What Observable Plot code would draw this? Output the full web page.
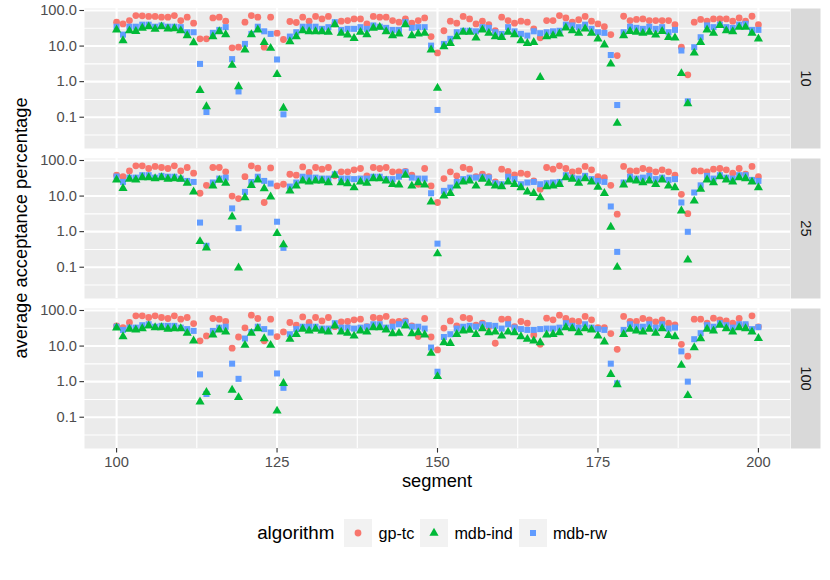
<!DOCTYPE html>
<html><head><meta charset="utf-8">
<script src="https://cdn.jsdelivr.net/npm/d3@7"></script>
<script src="https://cdn.jsdelivr.net/npm/@observablehq/plot@0.6"></script>
<style>
body{margin:0;background:#fff;font-family:"Liberation Sans",Arial,Helvetica,sans-serif;}
#legend{display:flex;align-items:center;justify-content:center;width:790px;padding-left:40px;height:28px;margin-top:19px;}
#legend .title{font-size:18.8px;color:#000;margin-right:10px;}
#legend .lab{font-size:16.2px;color:#000;margin-left:6px;margin-right:6px;}
#legend svg{display:block;}
</style></head><body><div id="chart"></div><div id="legend"></div><script>
const segments = [100,101,102,103,104,105,106,107,108,109,110,111,112,113,114,115,116,117,118,119,120,121,122,123,124,125,126,127,128,129,130,131,132,133,134,135,136,137,138,139,140,141,142,143,144,145,146,147,148,149,150,151,152,153,154,155,156,157,158,159,160,161,162,163,164,165,166,167,168,169,170,171,172,173,174,175,176,177,178,179,180,181,182,183,184,185,186,187,188,189,190,191,192,193,194,195,196,197,198,199,200];
const facets = ["10","25","100"];
const algorithms = ["gp-tc","mdb-ind","mdb-rw"];
const colors = ["#F8766D","#00BA38","#619CFF"];
const symbols = ["circle","triangle","square"];
const yMajor = [0.1,1,10,100];
const yMinor = [0.0316,0.316,3.16,31.6];
const xMajor = [100,125,150,175,200];
const xMinor = [112.5,137.5,162.5,187.5];

// panel "10"
const gp_tc_10 = [47,42,52,72,71,68,68,65,65,72, 52,65,44,16,16,62,65,50,8.9,9.3, 47,72,65,9.3,65,23,15.3,49,46,65, 50,68,58,68,42,50,52,58,58,42, 68,65,65,52,47,58,44,52,62,18.5, 6.4,27,50,44,68,58,42,50,40,27, 65,52,44,50,47,30.5,17,52,52,72, 62,47,55,68,50,42,35,21,5.4,69, 52,56,58,52,52,52,52,40,9.3,1.55, 47,56,50,58,58,58,50,62,50,69,40];
const mdb_ind_10 = [28.5,14.3,27,26,32,35,30,35,30.5,31, 27,19.7,12.6,0.57,0.2,18.5,25.6,21,2.9,0.73, 7.8,21,28.5,12.8,8.7,1.6,0.18,13.4,18.5,27, 25.6,25.6,25.6,24.5,40,23,20.6,16.6,24.5,21, 32,34,25.6,19.7,22,40,19.7,22,23,7.8, 0.66,9.7,12,18.5,24.5,24.5,17,28.5,23,18.5, 17.7,24.5,21,14.3,12,12.8,1.32,18.5,19.7,22, 32.5,27,23,30.5,23,16,10.8,3.15,0.068,19.7, 26,24.5,23,24.5,20.6,26,17.7,17,1.7,0.24, 6.4,12.8,28.5,23,38,27,25.6,34,34,23,16];
const mdb_rw_10 = [35,21,35,35,40,40,35,38,35,35, 34,24.5,24.5,3.15,0.14,23.5,28.5,34,4.3,0.53, 11.5,22,35,26,22,4.2,0.12,18.5,24.5,35, 35,35,30.5,34,47,28.5,30.5,30.5,34,30.5, 38,35,32.5,28.5,28.5,47,32.5,34,34,10.3, 0.16,11.5,16,24.5,27,27,26,34,32.5,24.5, 22,34,26,22,19.7,26,23,24.5,26,27, 40,38,34,40,30.5,24.5,23.5,5.6,0.22,24.5, 35,32.5,30.5,35,30.5,34,24.5,28.5,7.5,0.28, 9.3,17.7,38,34,40,34,32.5,40,42,28.5,28.5];

// panel "25"
const gp_tc_25 = [38.6,35,51,71,71,59.5,68,63.5,59.5,71, 51,63.5,44,12,20,63.5,63.5,48,10,8.5, 35,71,61,6.6,62,19.3,21.5,41,38.6,66, 46,63.5,57,63.5,37,48,48,54.6,59.5,37, 63.5,59.5,63.5,48,48,49,38.6,21.5,59.5,19.3, 6.6,31,48,37,63.5,57,35,41,35,25, 57,49,39.5,44,41,26.7,15.6,63.5,57,71, 59.5,48,51,68,54.6,35,33,20,3.1,68, 51,51,59.5,54.6,48,54.6,48,38.6,11.2,3.2, 51,51,48,57,59.5,54.6,44,59.5,41,68,35];
const mdb_ind_25 = [28.5,16.6,30,28.5,33,33,31,33,30,31, 30,23,13.1,0.53,0.35,19.3,28,23,2.6,0.096, 9.1,20,28.5,16.3,9.5,0.9,0.43,14,19.3,26.7, 25,26.7,26.7,24,38.6,24,22.5,17.3,25,23, 31,31,26.7,21.5,20.6,38.6,19.3,24,20.6,6.9, 0.24,10.1,12,19.3,25,26.7,19.3,30,23,19.3, 18.5,25,21.5,17.3,13.1,12,9.1,18.5,19.3,21.5, 33,30,23,31,25,18,12,1.35,0.1,20.6, 28.5,26.7,24,26.7,21.5,28.5,19.3,17.3,3.85,0.16, 7.3,15.6,28.5,24,35,28.5,25,33,31,25,17.3];
const mdb_rw_25 = [35.4,25,33,33,38.6,38.6,33,37,35,35, 31,26.7,25,1.8,0.4,24,31,33,4.5,1.25, 13.1,25,35,26.7,22.5,1.9,0.35,18.5,24,35, 33,33,31,31,41,31,31,30,31,31, 35,35,30,30,35,48,33,31,31,12, 0.46,14,17.3,25,30,33,33,35,33,23, 21.5,35,30,21.5,24,25,21.5,23,24,25, 38.6,33,31,37,30,26.7,25,5.1,0.27,24, 35,31,33,37,30,33,28.5,30,6.6,0.99, 12.6,20,37,31,38.6,33,31,38.6,38.6,28.5,26.7];

// panel "100"
const gp_tc_100 = [37,33,46,71,71,63.5,71,63.5,59.5,71, 57,63.5,43,14,19.3,59.5,57,49,8.7,18, 32.5,74,59.5,14,57,18.5,25,46,38.6,66, 46,63.5,51,63.5,35,48,49,54.6,57,35, 63.5,61,68,48,49,51,37,18.5,59.5,18, 7.8,32,51,37,63.5,59.5,38.6,44,35,12, 57,57,35,49,44,20.6,11.2,61,54.6,74, 59.5,51,49,68,54.6,33,33,22.5,8.1,68, 49,49,59.5,54.6,48,54.6,44,39.5,11.2,5.2, 57,57,44,61,54.6,51,44,59.5,38.6,71,34.7];
const mdb_ind_100 = [32.5,18.5,30,28.5,31,37,33,33,30,31, 31,23,14,0.27,0.5,20.6,28.5,25,0.58,0.36, 10.6,23,31,16.3,10.6,0.15,0.9,15.6,21.5,30, 26.7,30,26.7,25,37,25,23,19.3,26.7,25, 33,33,28.5,22.5,23,37,22.5,24,20.6,6.3, 1.4,12.6,12,21.5,26.7,28,21.5,31,24,25, 19.3,25,24,18.5,15.6,14,12.6,20.6,21.5,24, 33,31,24,31,28.5,19.3,13.1,1.6,0.83,21.5, 30,26.7,25,30,23,31,20,18.5,2.9,0.41, 9.1,16.3,30,26.7,38.6,31,25,33,31,25,16.6];
const mdb_rw_100 = [35,28.5,33,33,38.6,41,35,37,37,37, 33,30,26.7,1.6,0.45,26.7,33,35,3.2,1.2, 16.3,25,35,30,24,1.7,0.67,21.5,30,35, 35,35,31,31,44,33,33,31,33,35, 41,41,33,35,41,48,35,35,31,9.1, 1.9,18,21.5,31,35,37,35,41,38.6,37, 31,41,33,30,28.5,28.5,30,31,31,33, 44,37,33,41,33,30,28.5,3.2,0.9,28.5, 41,35,35,41,33,41,31,33,7.1,1.0, 15.6,23,38.6,35,44,38.6,33,41,41,30,34];

const series = {
  "10":  {"gp-tc": gp_tc_10,  "mdb-ind": mdb_ind_10,  "mdb-rw": mdb_rw_10},
  "25":  {"gp-tc": gp_tc_25,  "mdb-ind": mdb_ind_25,  "mdb-rw": mdb_rw_25},
  "100": {"gp-tc": gp_tc_100, "mdb-ind": mdb_ind_100, "mdb-rw": mdb_rw_100}
};
const rows = [];
facets.forEach(f => algorithms.forEach(a => series[f][a].forEach((v, i) =>
  rows.push({panel: f, algorithm: a, segment: segments[i], value: v}))));

const W = 830, H = 500, mL = 84, mR = 40, mT = 8, mB = 52;
const font = '"Liberation Sans", Arial, Helvetica, sans-serif';
const R = 3.4;
const drawOrder = ["gp-tc", "mdb-rw", "mdb-ind"];

const chart = Plot.plot({
  width: W, height: H,
  marginLeft: mL, marginRight: mR, marginTop: mT, marginBottom: mB,
  style: {fontFamily: font, background: "white", overflow: "visible"},
  x: {domain: [95, 205]},
  y: {type: "log", domain: [0.0132, 113.8]},
  fy: {domain: facets, paddingInner: 10 / 150, paddingOuter: 0, round: false},
  marks: [
    Plot.frame({fill: "#EBEBEB", stroke: "none"}),
    Plot.frame({fill: "#D9D9D9", stroke: "none", insetLeft: W - mL - mR + 0.5, insetRight: -30}),
    Plot.ruleY(yMinor, {stroke: "white", strokeWidth: 1.1}),
    Plot.ruleX(xMinor, {stroke: "white", strokeWidth: 1.1}),
    Plot.ruleY(yMajor, {stroke: "white", strokeWidth: 2.1}),
    Plot.ruleX(xMajor, {stroke: "white", strokeWidth: 2.1}),
    Plot.axisY({ticks: yMajor, tickFormat: d => d.toFixed(1), tickSize: 4.6, tickPadding: 3,
      fontSize: 14.7, fill: "#4D4D4D", stroke: "#333333", strokeWidth: 1.1, label: null}),
    Plot.axisX({ticks: xMajor, tickFormat: d => String(d), tickSize: 4.6, tickPadding: 3,
      fontSize: 14.7, fill: "#4D4D4D", stroke: "#333333", strokeWidth: 1.1, label: null}),
    Plot.axisFy({anchor: "right", tickSize: 0, tickPadding: 15, rotate: 90, textAnchor: "middle",
      fontSize: 14.7, fill: "#1A1A1A", label: null}),
    ...drawOrder.map(a => {
      const k = algorithms.indexOf(a);
      return Plot.dot(rows.filter(d => d.algorithm === a), {
        x: "segment", y: "value", fy: "panel",
        fill: colors[k], stroke: "none", symbol: symbols[k], r: R
      });
    })
  ]
});

const svg = d3.select(chart);
svg.append("text")
  .attr("x", (mL + W - mR) / 2).attr("y", 487)
  .attr("text-anchor", "middle").attr("font-size", 18.3).attr("fill", "#000")
  .attr("font-family", font).text("segment");
svg.append("text")
  .attr("transform", `translate(27,${(mT + H - mB) / 2}) rotate(-90)`)
  .attr("text-anchor", "middle").attr("font-size", 18.3).attr("fill", "#000")
  .attr("font-family", font).text("average acceptance percentage");
document.getElementById("chart").appendChild(chart);

// legend
const leg = d3.select("#legend");
leg.append("span").attr("class", "title").text("algorithm");
const symMap = {circle: d3.symbolCircle, triangle: d3.symbolTriangle, square: d3.symbolSquare};
algorithms.forEach((a, k) => {
  const s = leg.append("svg").attr("width", 28).attr("height", 28);
  s.append("rect").attr("width", 28).attr("height", 28).attr("fill", "#F2F2F2");
  s.append("path").attr("transform", "translate(14,14)")
    .attr("d", d3.symbol(symMap[symbols[k]], Math.PI * R * R)())
    .attr("fill", colors[k]);
  leg.append("span").attr("class", "lab").text(a);
});
</script></body></html>
